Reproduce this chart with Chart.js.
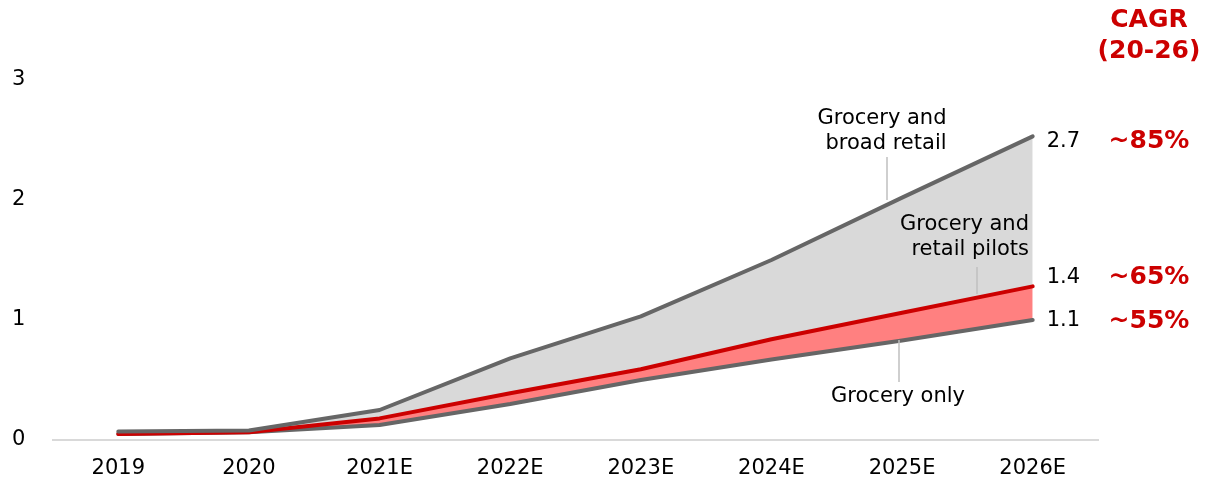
<!DOCTYPE html>
<html>
<head>
<meta charset="utf-8">
<script src="https://cdn.jsdelivr.net/npm/chart.js@4"></script>
<style>
  html, body { margin: 0; padding: 0; background: #fff; }
</style>
</head>
<body>
<canvas id="chart" width="1208" height="481"></canvas>
<script>
const years = ['2019', '2020', '2021E', '2022E', '2023E', '2024E', '2025E', '2026E'];
const groceryOnly = [0.05, 0.065, 0.125, 0.3, 0.5, 0.67, 0.83, 1.0];
const retailPilots = [0.05, 0.065, 0.18, 0.39, 0.59, 0.84, 1.06, 1.28];
const broadRetail = [0.07, 0.08, 0.25, 0.68, 1.03, 1.5, 2.02, 2.53];
const yTicks = [0, 1, 2, 3];
const endLabels = ['2.7', '1.4', '1.1'];
const cagrLabels = ['~85%', '~65%', '~55%'];

const RED = '#cc0000';
const GREY = '#666666';
const FONT = "'DejaVu Sans', Verdana, sans-serif";

// texts next to the lines, leader lines, CAGR column
const annotations = {
    id: 'annotations',
    afterDatasetsDraw(chart) {
        const ctx = chart.ctx;
        const x = chart.scales.x;
        const y = chart.scales.y;
        const last = years.length - 1;
        const xEnd = x.getPixelForValue(last);
        const ends = [broadRetail[last], retailPilots[last], groceryOnly[last]];
        const shifts = [5, -9, 1];

        ctx.save();
        ctx.textBaseline = 'middle';
        ctx.font = '21px ' + FONT;
        ctx.fillStyle = '#000';
        ctx.textAlign = 'left';
        ends.forEach((v, i) => {
            ctx.fillText(endLabels[i], xEnd + 14, y.getPixelForValue(v) + shifts[i]);
        });

        ctx.font = 'bold 25px ' + FONT;
        ctx.fillStyle = RED;
        ctx.textAlign = 'center';
        ends.forEach((v, i) => {
            ctx.fillText(cagrLabels[i], 1149, y.getPixelForValue(v) + shifts[i]);
        });
        ctx.fillText('CAGR', 1149, 20);
        ctx.fillText('(20-26)', 1149, 51);

        // series names
        ctx.font = '21px ' + FONT;
        ctx.fillStyle = '#000';
        ctx.textAlign = 'center';
        ctx.fillText('Grocery and', 882, 119);
        ctx.fillText('broad retail', 886, 144);
        ctx.fillText('Grocery only', 898, 397);
        ctx.textAlign = 'right';
        ctx.fillText('Grocery and', 1029, 225);
        ctx.fillText('retail pilots', 1029, 250);

        ctx.strokeStyle = '#bfbfbf';
        ctx.lineWidth = 1.5;
        [[887, 157, 200], [977, 267, 294], [899, 340, 382]].forEach(([lx, y1, y2]) => {
            ctx.beginPath();
            ctx.moveTo(lx, y1);
            ctx.lineTo(lx, y2);
            ctx.stroke();
        });
        ctx.restore();
    }
};

new Chart(document.getElementById('chart'), {
    type: 'line',
    data: {
        labels: years,
        datasets: [
            {
                label: 'Grocery only',
                data: groceryOnly,
                borderColor: GREY,
                fill: false,
                order: 2
            },
            {
                label: 'Grocery and retail pilots',
                data: retailPilots,
                borderColor: RED,
                backgroundColor: '#ff8080',
                fill: 0,
                order: 1
            },
            {
                label: 'Grocery and broad retail',
                data: broadRetail,
                borderColor: GREY,
                backgroundColor: '#d9d9d9',
                fill: 1,
                order: 0
            }
        ]
    },
    options: {
        responsive: false,
        animation: false,
        layout: { padding: { left: 12, right: 110, top: 80, bottom: 0 } },
        elements: {
            point: { radius: 0 },
            line: { tension: 0, borderWidth: 4, borderCapStyle: 'round', borderJoinStyle: 'round' }
        },
        plugins: {
            legend: { display: false },
            tooltip: { enabled: false },
            filler: { drawTime: 'beforeDatasetsDraw' }
        },
        scales: {
            x: {
                offset: true,
                grid: { display: false, drawTicks: false },
                border: { display: true, color: '#d9d9d9', width: 2 },
                ticks: { color: '#000', font: { family: FONT, size: 21 }, padding: 16, maxRotation: 0 },
                afterFit(scale) { scale.height = 41; }
            },
            y: {
                min: 0,
                max: 3,
                afterBuildTicks(scale) { scale.ticks = yTicks.map(v => ({ value: v })); },
                grid: { display: false, drawTicks: false },
                border: { display: false },
                ticks: { color: '#000', font: { family: FONT, size: 21 }, padding: 0, crossAlign: 'far' },
                afterFit(scale) { scale.width = 41; }
            }
        }
    },
    plugins: [annotations]
});
</script>
</body>
</html>
